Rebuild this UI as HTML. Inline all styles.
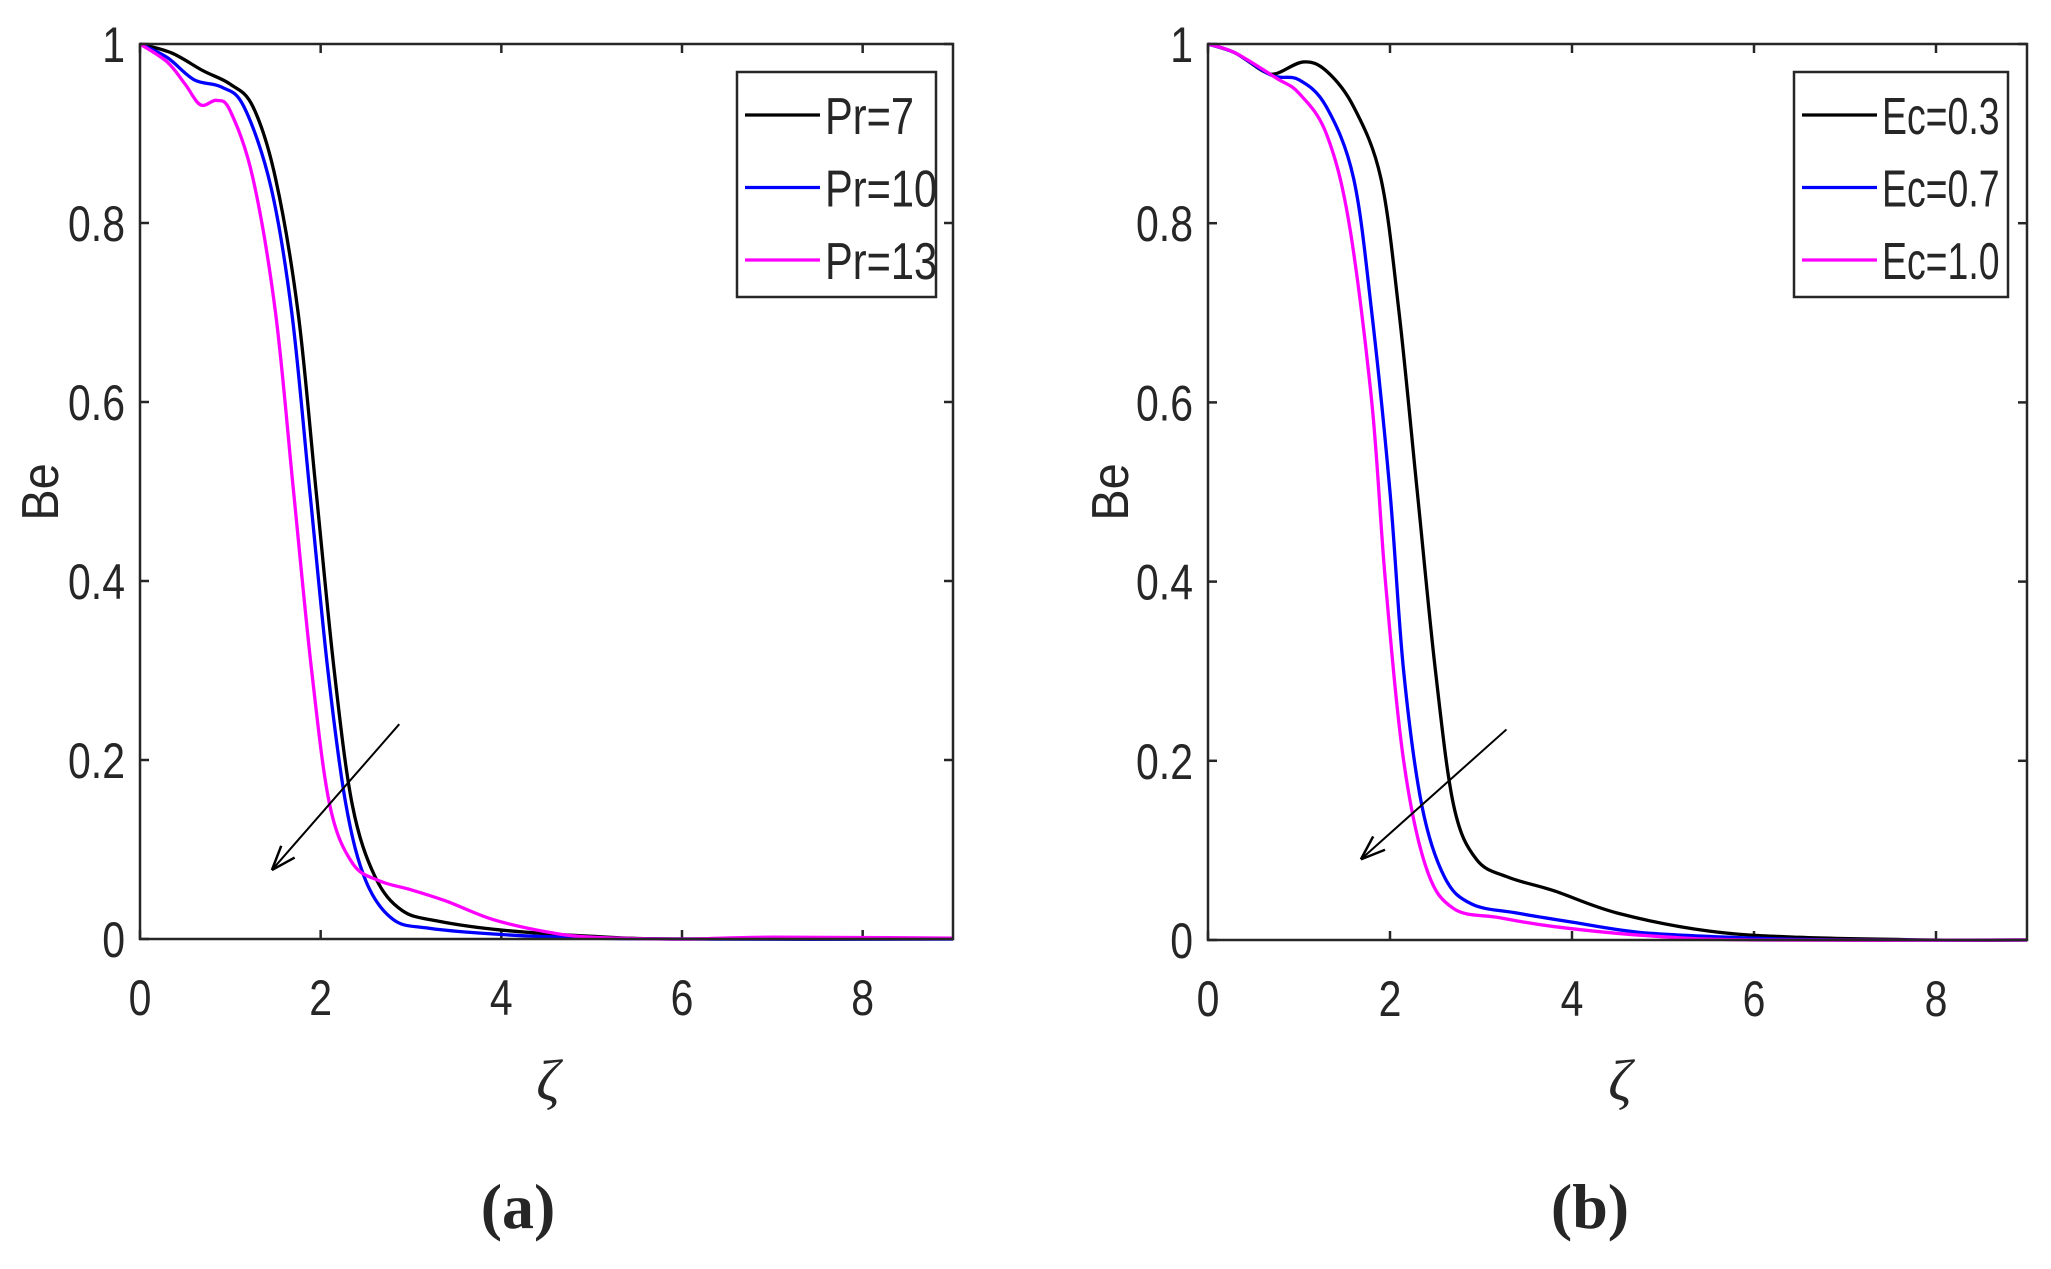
<!DOCTYPE html>
<html><head><meta charset="utf-8"><style>
html,body{margin:0;padding:0;background:#fff;}
svg{display:block;}
text{font-family:"Liberation Sans",sans-serif;fill:#262626;}
</style></head><body>
<svg id="s" width="2051" height="1269" viewBox="0 0 2051 1269" xmlns="http://www.w3.org/2000/svg"></svg>
<script>
const S=document.getElementById('s');let h='';
function T(x,y,s,anchor,size,sx){return `<text transform="translate(${x},${y}) scale(${sx||0.82},1)" font-size="${size||50}" text-anchor="${anchor}">${s}</text>`;}
function panel(x0,x1,y0,y1,series,legend,lx0,lx1,letter,beX,zX,capX,lsx){
  const X=v=>x0+(x1-x0)*v/9, Y=v=>y1-(y1-y0)*v;
  for(let t=0;t<=8;t+=2){const x=X(t);
    h+=`<line x1="${x}" y1="${y1}" x2="${x}" y2="${y1-9}" stroke="#262626" stroke-width="2.5"/>`;
    h+=`<line x1="${x}" y1="${y0}" x2="${x}" y2="${y0+9}" stroke="#262626" stroke-width="2.5"/>`;
    h+=T(x,y1+76,t,'middle');}
  for(let i=0;i<=5;i++){const v=i*0.2,y=Y(v);
    h+=`<line x1="${x0}" y1="${y}" x2="${x0+9}" y2="${y}" stroke="#262626" stroke-width="2.5"/>`;
    h+=`<line x1="${x1}" y1="${y}" x2="${x1-9}" y2="${y}" stroke="#262626" stroke-width="2.5"/>`;
    const lab=i==0?'0':i==5?'1':v.toFixed(1);
    h+=T(x0-15,y+18,lab,'end');}
  for(const s of series){
    const p=s.pts.map(([a,b])=>[X(a),Y(b)]);
    let d=`M${p[0][0]},${p[0][1]}`;
    for(let i=0;i<p.length-1;i++){const a=p[Math.max(0,i-1)],b=p[i],c=p[i+1],e=p[Math.min(p.length-1,i+2)];
      d+=` C${b[0]+(c[0]-a[0])/6},${b[1]+(c[1]-a[1])/6} ${c[0]-(e[0]-b[0])/6},${c[1]-(e[1]-b[1])/6} ${c[0]},${c[1]}`;}
    h+=`<path d="${d}" fill="none" stroke="${s.c}" stroke-width="3.3" stroke-linejoin="round"/>`;}
  h+=`<rect x="${x0}" y="${y0}" width="${x1-x0}" height="${y1-y0}" fill="none" stroke="#262626" stroke-width="2.5"/>`;
  h+=`<rect x="${lx0}" y="72" width="${lx1-lx0}" height="225" fill="#fff" stroke="#262626" stroke-width="2.5"/>`;
  legend.forEach((l,i)=>{const y=115+i*72.5;
    h+=`<line x1="${lx0+8}" y1="${y}" x2="${lx0+83}" y2="${y}" stroke="${series[i].c}" stroke-width="3.3"/>`;
    h+=T(lx0+88,y+19,l,'start',52,lsx);});
  h+=`<text transform="translate(${beX},492) rotate(-90) scale(0.9,1)" font-size="52" text-anchor="middle">Be</text>`;
  h+=`<text x="${zX}" y="1100" font-size="58" font-style="italic" text-anchor="middle" style="font-family:'Liberation Serif',serif">ζ</text>`;
  h+=`<text x="${capX}" y="1228" font-size="64" font-weight="bold" text-anchor="middle" style="font-family:'Liberation Serif',serif">(${letter})</text>`;
  return {X,Y};
}
function arrow(P,xa,ya,xb,yb){const x1=P.X(xa),y1=P.Y(ya),x2=P.X(xb),y2=P.Y(yb);
  const ang=Math.atan2(y2-y1,x2-x1),L=26,w=0.35;
  h+=`<line x1="${x1}" y1="${y1}" x2="${x2}" y2="${y2}" stroke="#000" stroke-width="2"/>`;
  h+=`<path d="M${x2},${y2} L${x2-L*Math.cos(ang-w)},${y2-L*Math.sin(ang-w)} M${x2},${y2} L${x2-L*Math.cos(ang+w)},${y2-L*Math.sin(ang+w)}" stroke="#000" stroke-width="2.5" fill="none"/>`;}
const A=[
 {c:'#000',pts:[[0,1],[0.35,0.99],[0.7,0.97],[1.0,0.955],[1.25,0.93],[1.5,0.85],[1.75,0.7],[1.95,0.5],[2.15,0.3],[2.35,0.15],[2.6,0.07],[2.9,0.032],[3.3,0.02],[4,0.01],[5,0.003],[6,0],[9,0]]},
 {c:'#0000ff',pts:[[0,1],[0.3,0.985],[0.6,0.96],[0.9,0.952],[1.15,0.93],[1.45,0.84],[1.68,0.7],[1.88,0.5],[2.08,0.3],[2.28,0.15],[2.5,0.065],[2.8,0.022],[3.2,0.012],[4,0.005],[5,0.001],[6,0],[9,0]]},
 {c:'#ff00ff',pts:[[0,1],[0.3,0.98],[0.5,0.955],[0.67,0.932],[0.85,0.937],[1.0,0.925],[1.25,0.85],[1.5,0.7],[1.7,0.5],[1.9,0.3],[2.1,0.15],[2.35,0.085],[2.65,0.065],[3.0,0.055],[3.4,0.042],[3.9,0.022],[4.5,0.008],[5,0.002],[6,0],[7,0.002],[9,0.001]]}];
const P1=panel(140,953,44,939,A,['Pr=7','Pr=10','Pr=13'],737,936,'a',58,548,518,0.8);
arrow(P1,2.87,0.24,1.46,0.077);
const B=[
 {c:'#000',pts:[[0,1],[0.3,0.99],[0.6,0.97],[0.75,0.967],[1.05,0.98],[1.3,0.97],[1.6,0.93],[1.9,0.85],[2.1,0.7],[2.3,0.5],[2.5,0.3],[2.7,0.15],[2.95,0.09],[3.3,0.07],[3.8,0.055],[4.5,0.03],[5.5,0.01],[6.5,0.003],[8,0],[9,0]]},
 {c:'#0000ff',pts:[[0,1],[0.3,0.99],[0.7,0.965],[1.0,0.96],[1.3,0.93],[1.6,0.85],[1.8,0.7],[2.0,0.5],[2.15,0.3],[2.35,0.15],[2.6,0.07],[2.9,0.04],[3.4,0.03],[4,0.02],[4.8,0.008],[6,0.002],[7,0],[9,0]]},
 {c:'#ff00ff',pts:[[0,1],[0.3,0.99],[0.75,0.962],[1.0,0.945],[1.3,0.9],[1.55,0.8],[1.8,0.6],[1.95,0.4],[2.15,0.2],[2.4,0.08],[2.7,0.035],[3.2,0.025],[3.8,0.015],[4.8,0.005],[6,0],[9,0]]}];
const P2=panel(1208,2027,44,940,B,['Ec=0.3','Ec=0.7','Ec=1.0'],1794,2008,'b',1128,1620,1590,0.72);
arrow(P2,3.28,0.235,1.68,0.09);
S.innerHTML=h;
</script>
</body></html>
